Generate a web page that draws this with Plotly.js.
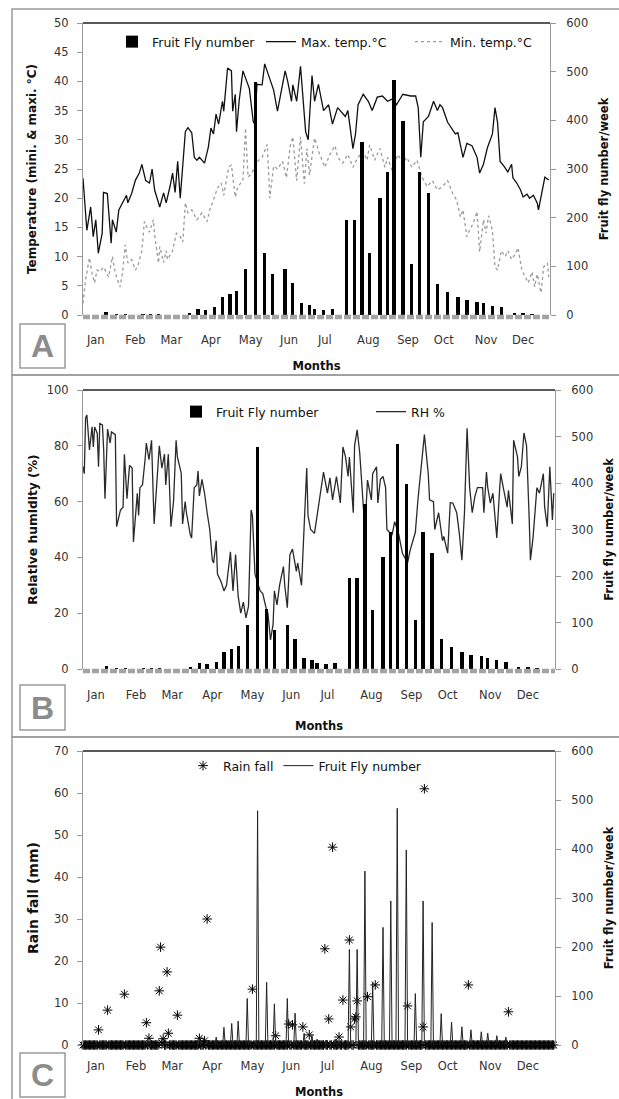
<!DOCTYPE html>
<html><head><meta charset="utf-8">
<script src="https://cdn.plot.ly/plotly-3.0.1.min.js"></script>
<style>html,body{margin:0;padding:0;background:#fff}#chart{width:619px;height:1099px}</style>
</head><body><div id="chart"></div>
<script>
// ---------------- DATA ----------------
const monthLabels = ['Jan','Feb','Mar','Apr','May','Jun','Jul','Aug','Sep','Oct','Nov','Dec'];
const monthTickDays = [11, 42, 70, 101, 132, 162, 190, 224, 255, 283, 316, 345];
const dayRange = [1, 366];

// weekly fruit fly catches (day of year, number/week)
const flyDays = [19,27,34,48,54,60,84,91,97,104,110,116,121,128,136,143,149,159,165,172,178,182,189,196,207,213,219,225,233,239,244,251,258,264,271,278,286,294,301,309,314,321,328,338,345,352];
const flyCounts = [6,2,2,2,2,2,4,12,10,16,36,44,49,95,478,128,84,95,65,24,20,12,10,12,195,195,355,127,240,294,483,398,105,294,250,64,47,37,31,27,24,19,16,5,5,2];

// daily maximum temperature (day, °C)
const maxTemp = [[1,23.4],[4,14.5],[7,18.5],[9,13.4],[11,16.3],[13,10.6],[16,14],[17,21],[20,20.8],[22,15.7],[23,12.3],[24,16.3],[27,14.2],[29,18],[32,19.4],[35,20.5],[36,19.2],[39,20.8],[42,23.1],[45,24.3],[47,25.8],[50,23],[53,22.6],[55,25],[57,21.4],[61,18.5],[64,20.9],[66,19.2],[69,22],[71,24.3],[73,21],[75,26.3],[77,20],[79,25],[81,31.4],[83,32.1],[86,31.2],[88,27],[90,26.5],[92,27],[96,26],[99,28.8],[101,32],[103,31],[105,34.4],[107,32.7],[110,36.6],[111,34.9],[113,39.5],[114,42.3],[117,41.8],[118,34.9],[120,37.8],[121,31.4],[123,36.6],[126,41.8],[129,40],[131,38.8],[134,33.2],[135,32.7],[137,39.5],[141,39.4],[143,43],[146,41.2],[148,40],[150,38.5],[153,34.9],[159,41.8],[161,40],[164,36.6],[165,39.4],[168,36.6],[171,42.6],[173,36.6],[175,31.4],[177,30],[180,41],[182,36.6],[185,39.5],[189,35],[193,36],[196,32.7],[200,35.5],[206,34],[208,35],[212,28.5],[214,31],[216,36],[220,37.8],[224,36.6],[227,35],[231,37.3],[235,37.5],[239,36.6],[243,37],[246,36],[249,37],[251,37.8],[257,37.5],[261,37.5],[263,35.5],[265,27],[267,33.1],[271,34],[275,36.6],[278,35],[280,36],[282,35.5],[286,33],[289,32],[292,31],[294,31.2],[298,27],[301,29.4],[305,29],[309,27],[311,24.3],[314,25.8],[317,28.6],[321,31],[323,35.5],[325,33],[327,26.3],[330,25.5],[333,24.5],[336,25.8],[337,23.5],[340,22.6],[343,21.4],[345,20.2],[348,20.7],[350,20],[353,20.5],[356,19.2],[357,18],[360,21.4],[362,23.6],[365,23.1]];

// daily minimum temperature (day, °C)
const minTemp = [[1,2],[3,6],[6,9.8],[8,7.2],[10,5.5],[12,7.7],[14,7.4],[17,8.2],[19,7.4],[21,6.5],[24,10],[26,7.4],[28,6],[30,4.8],[32,7.4],[34,12],[36,8.9],[39,9.5],[42,7.7],[44,8.5],[47,11],[49,16],[51,15],[53,14.2],[56,16.3],[57,13.7],[60,8.9],[61,11.7],[64,9],[66,11],[67,9.5],[70,10.5],[71,11],[74,14],[77,13.4],[79,12.5],[81,19.2],[83,17.5],[86,18],[90,16.3],[94,17.5],[98,16],[100,18],[103,19.7],[106,21.7],[109,22.6],[111,20.5],[114,24.3],[115,25.3],[117,25.7],[120,20.2],[122,22],[126,23],[128,32],[130,23.6],[133,24.3],[137,26.2],[141,27],[145,29.2],[147,20],[150,25.5],[153,25],[157,26.3],[160,23.5],[163,29],[165,30.5],[168,23],[171,30.5],[174,22.5],[176,28.5],[178,24],[182,30.3],[186,27.5],[190,25.3],[194,27.5],[198,29],[200,27],[204,26],[208,27.5],[212,25.3],[216,27],[220,28],[223,26.5],[225,29.1],[229,26.5],[233,28.5],[237,25.3],[239,27],[243,24.5],[247,27.5],[251,26],[254,27],[258,25.3],[262,26.5],[264,25],[266,23.6],[270,22],[274,23],[278,21.4],[282,22],[286,23],[290,20.8],[293,19.7],[296,16.8],[298,18],[301,13.4],[303,14.5],[306,15.7],[309,17.7],[311,10.8],[314,16.3],[316,14],[318,17],[321,14.5],[323,8.2],[325,7.7],[328,11],[331,10],[333,11],[336,9.5],[339,10.5],[341,11.5],[344,7.7],[347,6.5],[349,5.5],[352,7.4],[354,4.8],[356,7],[359,3.8],[361,8.2],[364,8.9],[365,6.5]];

// daily relative humidity (day, %)
const rhDaily = [[1,72.5],[2,70],[3,90],[4,91],[6,78.5],[8,86.8],[9,79.6],[10,86.7],[12,84.5],[13,72.5],[14,88],[16,87.5],[17,78.5],[18,61],[20,86],[22,81],[23,85],[26,84],[27,51],[30,57],[32,58],[33,77],[35,61],[37,73],[39,72],[40,45.5],[43,63],[44,55],[45,65],[47,66],[49,75],[50,81],[52,75],[54,82],[56,52],[58,68],[60,80],[62,72],[64,77],[65,66],[67,77],[69,51],[71,60],[73,82],[74,76],[77,70],[78,52],[80,60],[81,56],[84,48],[85,47],[87,65],[89,66],[90,71],[91,62],[93,68],[95,63],[97,56],[98,52],[99,50],[101,39],[102,38],[104,46],[105,34],[108,31],[110,28],[112,30],[115,42],[117,28],[119,41],[121,26],[123,20],[125,24],[127,18.3],[129,22.5],[131,57],[132,55],[134,34],[138,28],[140,27],[143,21],[144,20],[146,10.4],[148,16],[149,28],[151,23],[153,30],[156,36.7],[157,30],[159,22],[161,41],[163,43],[166,35],[167,38],[170,30],[172,50],[174,72],[175,55],[177,50],[180,48.6],[187,70.6],[190,63],[192,68.5],[194,60.6],[197,69],[200,59.5],[202,79.6],[204,76],[206,69],[207,76],[210,56],[211,80],[213,85.7],[215,77.4],[218,58],[219,49.8],[221,67.7],[224,60.6],[225,70],[228,72.5],[229,59.5],[231,68],[233,69],[235,65],[236,50],[240,48],[242,52.8],[245,48.6],[248,41.5],[250,40],[252,38],[254,42.6],[258,49],[260,60.6],[263,75],[265,84],[268,70],[269,60.6],[272,60],[273,50],[276,56],[279,46],[280,47.5],[283,41.5],[285,59.6],[287,59.5],[290,56],[292,48.6],[294,39],[296,56],[298,86.3],[300,65],[302,56],[304,61.7],[306,65],[310,65],[311,56],[313,70.6],[314,65],[316,59.5],[318,63],[320,52],[321,47],[323,63],[324,70],[326,65],[329,58],[330,64],[333,52],[334,82],[337,76],[338,69],[340,72.5],[342,84.6],[344,80],[346,54.5],[347,39],[349,47],[351,60.6],[352,65],[354,63],[357,70],[358,58],[360,51],[362,72.5],[364,53.4],[365,63]];

// rainfall events (day, mm); all other days recorded 0 mm
const rainEvents = [[13,3.6],[20,8.3],[33,12.1],[50,5.3],[52,1.6],[60,12.9],[61,23.3],[62,0.5],[63,1.5],[66,17.4],[67,2.8],[74,7.1],[91,1.6],[95,1],[97,30],[132,13.3],[150,2.2],[160,5],[163,4.8],[171,4.3],[176,2.4],[188,22.9],[191,6.2],[194,47.1],[199,1.9],[202,10.7],[207,25],[208,4.3],[211,6.2],[212,6.7],[213,10.5],[221,11.5],[227,14.3],[252,9.3],[264,4.3],[265,61],[299,14.3],[330,7.9]];

// ---------------- BUILD ----------------
const W = 619, H = 1099;
const px = v => v / W;
const py = v => 1 - v / H;
const FONT = 'DejaVu Sans, Liberation Sans, Arial, sans-serif';
const tickFont = {family: FONT, size: 11.5, color: '#333'};
const titleFont = {family: FONT, size: 11.5, color: '#111', weight: 'bold'};
const legFont = {family: FONT, size: 12.5, color: '#111'};

const col = (arr, i) => arr.map(p => p[i]);

// rain: events + zero-days
const rainX = [], rainY = [];
const evMap = new Map(rainEvents.map(p => [p[0], p[1]]));
for (let d = 1; d <= 365; d++) { rainX.push(d); rainY.push(evMap.has(d) ? evMap.get(d) : 0); }

// fruit fly as spike line (zero between sampling dates)
const flyLineX = [1], flyLineY = [0];
flyDays.forEach((d, i) => { flyLineX.push(d - 1, d, d + 1); flyLineY.push(0, flyCounts[i], 0); });
flyLineX.push(365); flyLineY.push(0);

const traces = [
  // Panel A
  {x: col(maxTemp,0), y: col(maxTemp,1), xaxis:'x', yaxis:'y', type:'scatter', mode:'lines', name:'Max. temp.°C',
   line:{color:'#111', width:1.3}, legend:'legend', legendrank:2},
  {x: col(minTemp,0), y: col(minTemp,1), xaxis:'x', yaxis:'y', type:'scatter', mode:'lines', name:'Min. temp.°C',
   line:{color:'#9a9a9a', width:1.3, dash:'dot'}, legend:'legend', legendrank:3},
  {x: flyDays, y: flyCounts, xaxis:'x', yaxis:'y2', type:'bar', name:'Fruit Fly number', width:2.6,
   marker:{color:'#000'}, legend:'legend', legendrank:1},
  // Panel B
  {x: col(rhDaily,0), y: col(rhDaily,1), xaxis:'x2', yaxis:'y3', type:'scatter', mode:'lines', name:'RH %',
   line:{color:'#2a2a2a', width:1.3}, legend:'legend2', legendrank:2},
  {x: flyDays, y: flyCounts, xaxis:'x2', yaxis:'y4', type:'bar', name:'Fruit Fly number', width:2.6,
   marker:{color:'#000'}, legend:'legend2', legendrank:1},
  // Panel C
  {x: flyLineX, y: flyLineY, xaxis:'x3', yaxis:'y6', type:'scatter', mode:'lines', name:'Fruit Fly number',
   line:{color:'#222', width:1}, legend:'legend3', legendrank:2},
  {x: rainX, y: rainY, xaxis:'x3', yaxis:'y5', type:'scatter', mode:'markers', name:'Rain fall', cliponaxis:false,
   marker:{symbol:'asterisk-open', size:8, color:'#000', line:{color:'#000', width:1}}, legend:'legend3', legendrank:1}
];

const xBase = (dom, anchor, lso, tso) => ({
  domain: dom, range: dayRange, anchor: anchor, tickvals: monthTickDays, ticktext: monthLabels,
  ticks: '', showline: false, showgrid: false, zeroline: false, tickfont: tickFont, ticklabelstandoff: lso,
  title: {text: 'Months', font: titleFont, standoff: tso}, fixedrange: true
});
const yLeft = (dom, anchor, rng, dt, title, so, fs) => ({
  domain: dom, anchor: anchor, range: rng, dtick: dt, ticks: 'outside', ticklen: 5, tickcolor: '#999',
  showline: true, linecolor: '#999', linewidth: 1, showgrid: false, zeroline: false, tickfont: tickFont,
  ticklabelstandoff: 6, title: {text: title, font: Object.assign({}, titleFont, {size: fs}), standoff: so}, fixedrange: true
});
const yRight = (over, anchor, title) => ({
  overlaying: over, anchor: anchor, side: 'right', range: [0, 600], dtick: 100, ticks: 'outside', ticklen: 5,
  tickcolor: '#999', showline: true, linecolor: '#999', linewidth: 1, showgrid: false, zeroline: false,
  tickfont: tickFont, ticklabelstandoff: 8, title: {text: title, font: titleFont, standoff: 12}, fixedrange: true
});

const legendBase = (x, y) => ({
  x: px(x), y: py(y), xanchor: 'left', yanchor: 'middle', orientation: 'h', font: legFont,
  bgcolor: 'rgba(0,0,0,0)', borderwidth: 0, itemwidth: 30, traceorder: 'normal', itemclick: false, itemdoubleclick: false
});

const shapes = [];
const annotations = [];
// panel frames
[[9,375],[375,737],[737,1110]].forEach(([t,b]) => shapes.push({type:'rect', xref:'paper', yref:'paper',
  x0: px(12), x1: px(640), y0: py(b), y1: py(t), line:{color:'#9a9a9a', width:1.5}, layer:'below'}));
// plot-area top borders
[['x','y'],['x2','y3'],['x3','y5']].forEach(([xa,ya]) => shapes.push({type:'line', xref: xa+' domain', yref: ya+' domain',
  x0:0, x1:1, y0:1, y1:1, line:{color:'#222', width:1.5}}));
// grey segmented strip under the category axis (panels A and B)
[['x','y'],['x2','y3']].forEach(([xa,ya]) => shapes.push({type:'line', xref: xa+' domain', yref: ya+' domain',
  ysizemode:'pixel', yanchor:0, x0:0, x1:1, y0:-2, y1:-2, line:{color:'#a3a3a3', width:4.5, dash:'7px,2px'}}));
// panel letter boxes
[['A',324,368],['B',685,730],['C',1053,1097]].forEach(([L,t,b]) => {
  shapes.push({type:'rect', xref:'paper', yref:'paper', x0:px(20), x1:px(65), y0:py(b), y1:py(t), line:{color:'#9a9a9a', width:1.5}});
  annotations.push({text: L, xref:'paper', yref:'paper', x: px(42.5), y: py((t+b)/2), xanchor:'center', yanchor:'middle',
    showarrow:false, font:{family:'Liberation Sans, Arial, sans-serif', size:32, color:'#8c8c8c', weight:'bold'}});
});

const layout = {
  width: W, height: H, margin: {l:0, r:0, t:0, b:0}, paper_bgcolor:'#fff', plot_bgcolor:'rgba(0,0,0,0)',
  showlegend: true, hovermode: false, bargap: 0,
  xaxis: xBase([px(83), px(550)], 'y', 16, 16),
  yaxis: yLeft([py(315), py(23)], 'x', [0, 50], 5, 'Temperature (mini. & maxi. °C)', 14, 12),
  yaxis2: yRight('y', 'x', 'Fruit fly number/week'),
  xaxis2: xBase([px(83), px(555)], 'y3', 17, 21),
  yaxis3: yLeft([py(669), py(390)], 'x2', [0, 100], 20, 'Relative humidity (%)', 6, 12.3),
  yaxis4: yRight('y3', 'x2', 'Fruit fly number/week'),
  xaxis3: xBase([px(83), px(555)], 'y5', 12, 18),
  yaxis5: yLeft([py(1045), py(751)], 'x3', [0, 70], 10, 'Rain fall (mm)', 12, 14),
  yaxis6: yRight('y5', 'x3', 'Fruit fly number/week'),
  legend: Object.assign(legendBase(112, 42), {entrywidth: 104}),
  legend2: Object.assign(legendBase(176, 412), {entrywidth: 150}),
  legend3: legendBase(183, 766),
  shapes: shapes, annotations: annotations
};

Plotly.newPlot('chart', traces, layout, {displayModeBar: false, staticPlot: true});
</script></body></html>
